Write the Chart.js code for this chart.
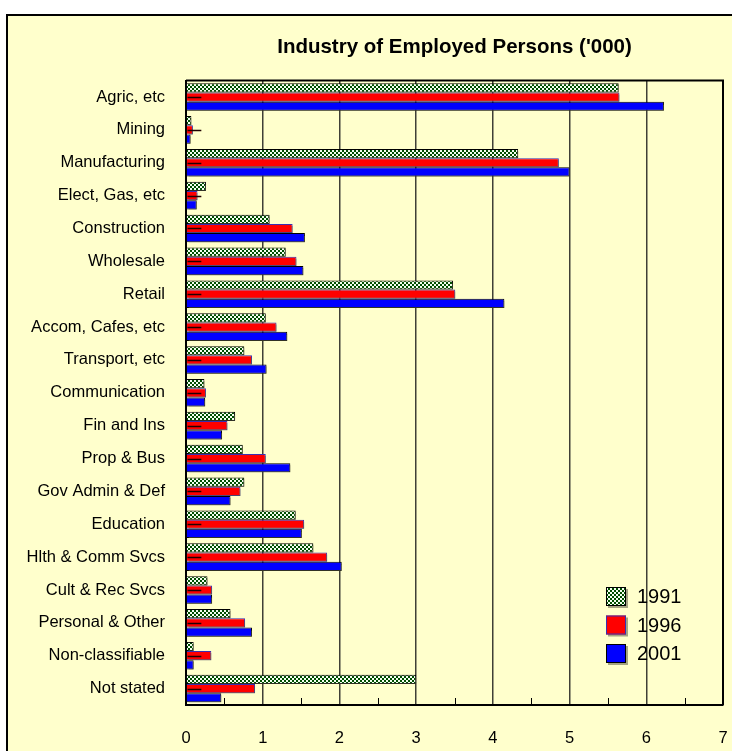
<!DOCTYPE html>
<html>
<head>
<meta charset="utf-8">
<script src="https://cdn.jsdelivr.net/npm/chart.js@4/dist/chart.umd.min.js"></script>
<style>
  html, body { margin: 0; padding: 0; background: #ffffff; width: 732px; height: 751px; overflow: hidden; }
  #frame { position: absolute; left: 6px; top: 14px; width: 760px; height: 780px; border: 2px solid #000; background: #FFFFCC; }
  #c { position: absolute; left: 0; top: 0; }
</style>
</head>
<body>
<div id="frame"></div>
<canvas id="c" width="732" height="751"></canvas>
<script>
const categories = ["Agric, etc", "Mining", "Manufacturing", "Elect, Gas, etc", "Construction", "Wholesale", "Retail", "Accom, Cafes, etc", "Transport, etc", "Communication", "Fin and Ins", "Prop & Bus", "Gov Admin & Def", "Education", "Hlth & Comm Svcs", "Cult & Rec Svcs", "Personal & Other", "Non-classifiable", "Not stated"];
const seriesNames = ["1991", "1996", "2001"];
const values1991 = [5.64, 0.07, 4.33, 0.26, 1.09, 1.30, 3.48, 1.04, 0.76, 0.24, 0.64, 0.74, 0.76, 1.43, 1.66, 0.28, 0.58, 0.10, 3.00];
const values1996 = [5.65, 0.09, 4.86, 0.15, 1.39, 1.44, 3.51, 1.18, 0.86, 0.26, 0.54, 1.04, 0.71, 1.54, 1.84, 0.34, 0.77, 0.33, 0.90];
const values2001 = [6.23, 0.06, 5.00, 0.14, 1.55, 1.53, 4.15, 1.32, 1.05, 0.25, 0.47, 1.36, 0.58, 1.51, 2.03, 0.34, 0.86, 0.10, 0.46];
const xTickLabels = ["0", "1", "2", "3", "4", "5", "6", "7"];

function makeChecker() {
  const p = document.createElement('canvas');
  p.width = 4; p.height = 4;
  const g = p.getContext('2d');
  g.fillStyle = '#f4fff0'; g.fillRect(0, 0, 4, 4);
  g.fillStyle = '#004d00';
  g.fillRect(0, 0, 2, 2); g.fillRect(2, 2, 2, 2);
  return g.createPattern(p, 'repeat');
}
const ctx = document.getElementById('c').getContext('2d');
const checker = makeChecker();

const shadowPlugin = {
  id: 'shadow',
  beforeDatasetsDraw(chart) {
    const c = chart.ctx; c.save();
    c.shadowColor = 'rgba(90,90,70,0.55)';
    c.shadowOffsetX = 2; c.shadowOffsetY = 2; c.shadowBlur = 0;
  },
  afterDatasetsDraw(chart) {
    const c = chart.ctx; c.restore();
    // small dark marker lines on the 1996 bars
    const meta = chart.getDatasetMeta(1);
    const xs = chart.scales.x;
    c.save();
    c.strokeStyle = '#200000'; c.lineWidth = 1.5;
    meta.data.forEach(el => {
      c.beginPath();
      c.moveTo(xs.getPixelForValue(0.02), Math.round(el.y) + 0.5);
      c.lineTo(xs.getPixelForValue(0.2), Math.round(el.y) + 0.5);
      c.stroke();
    });
    c.restore();
  }
};

const framePlugin = {
  id: 'frameLines',
  afterDraw(chart) {
    const c = chart.ctx, a = chart.chartArea, xs = chart.scales.x;
    c.save();
    c.strokeStyle = '#000'; c.lineWidth = 2;
    c.beginPath();
    c.moveTo(a.left, a.top); c.lineTo(a.right, a.top); c.lineTo(a.right, a.bottom);
    c.stroke();
    // minor ticks at half units
    c.lineWidth = 1;
    for (let v = 0.5; v < 7; v += 1) {
      const x = Math.round(xs.getPixelForValue(v)) + 0.5;
      c.beginPath(); c.moveTo(x, a.bottom); c.lineTo(x, a.bottom - 7); c.stroke();
    }
    // legend inside the plot
    const ds = chart.data.datasets;
    const lx = a.right - 117, ly0 = a.bottom - 118;
    c.font = '20px "Liberation Sans", Arial, sans-serif';
    c.textBaseline = 'middle'; c.textAlign = 'left';
    ds.forEach((d, i) => {
      const y = ly0 + i * 28.5;
      c.save();
      c.shadowColor = 'rgba(90,90,70,0.55)'; c.shadowOffsetX = 2; c.shadowOffsetY = 2;
      c.fillStyle = d.backgroundColor;
      c.fillRect(lx, y, 20, 19);
      c.restore();
      c.strokeStyle = d.borderColor; c.lineWidth = 1;
      c.strokeRect(lx + 0.5, y + 0.5, 19, 18);
      c.fillStyle = '#000';
      c.fillText(d.label, lx + 31, y + 10.5);
    });
    c.restore();
  }
};

new Chart(ctx, {
  type: 'bar',
  data: {
    labels: categories,
    datasets: [
      { label: seriesNames[0], data: values1991, backgroundColor: checker, borderColor: '#000000', borderWidth: 1 },
      { label: seriesNames[1], data: values1996, backgroundColor: '#ff0000', borderColor: '#3a2fb0', borderWidth: 1 },
      { label: seriesNames[2], data: values2001, backgroundColor: '#0000ff', borderColor: '#000000', borderWidth: 1 }
    ]
  },
  options: {
    indexAxis: 'y',
    responsive: false,
    animation: false,
    devicePixelRatio: 1,
    categoryPercentage: 0.84,
    barPercentage: 1.0,
    layout: { autoPadding: false, padding: { top: 0, right: 9, bottom: 0, left: 0 } },
    plugins: {
      legend: { display: false },
      tooltip: { enabled: false },
      title: {
        display: true,
        fullSize: false,
        text: "Industry of Employed Persons ('000)",
        color: '#000',
        font: { family: '"Liberation Sans", Arial, sans-serif', size: 20.5, weight: 'bold' },
        padding: { top: 35, bottom: 21 }
      }
    },
    scales: {
      x: {
        min: 0, max: 7,
        afterFit(s) { s.height = 46; s.paddingLeft = 0; s.paddingRight = 0; },
        ticks: {
          stepSize: 1,
          padding: 24,
          color: '#000',
          font: { family: '"Liberation Sans", Arial, sans-serif', size: 16.5 },
          callback: (v) => xTickLabels[v] !== undefined ? xTickLabels[v] : ''
        },
        grid: { color: '#404036', lineWidth: 1.5, drawTicks: false },
        border: { display: true, color: '#000', width: 2 }
      },
      y: {
        afterFit(s) { s.width = 186; s.paddingTop = 0; s.paddingBottom = 0; },
        ticks: {
          padding: 21,
          color: '#000',
          font: { family: '"Liberation Sans", Arial, sans-serif', size: 16.5 }
        },
        grid: { display: false, drawTicks: false },
        border: { display: true, color: '#000', width: 2 }
      }
    }
  },
  plugins: [shadowPlugin, framePlugin]
});
</script>
</body>
</html>
